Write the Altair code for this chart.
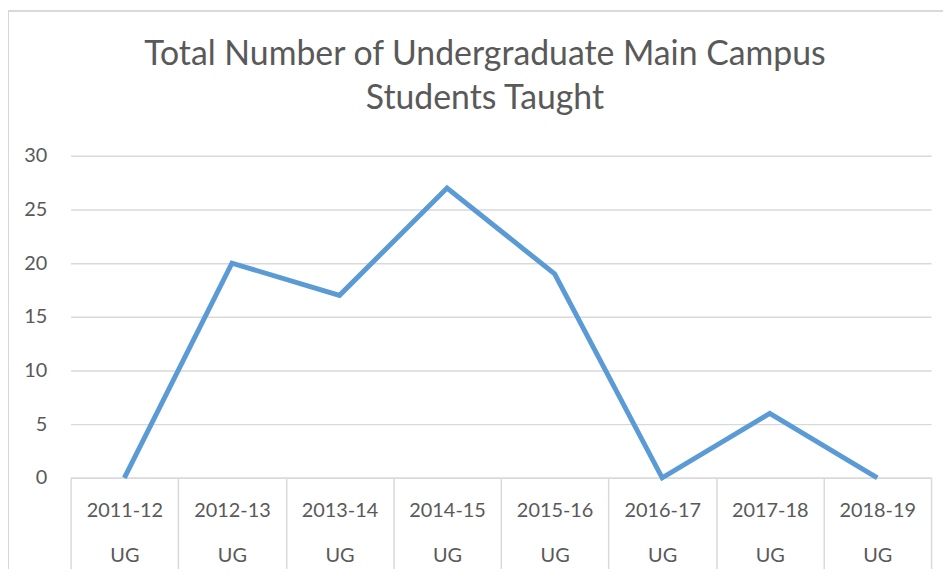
import altair as alt
import pandas as pd

years = ["2011-12", "2012-13", "2013-14", "2014-15", "2015-16", "2016-17", "2017-18", "2018-19"]
levels = ["UG", "UG", "UG", "UG", "UG", "UG", "UG", "UG"]
students = [0, 20, 17, 27, 19, 0, 6, 0]

df = pd.DataFrame({
    "cat": [f"{y}|{l}" for y, l in zip(years, levels)],
    "students": students,
})

FONT = "Lato"
GRAY = "#595959"
GRID = "#d9d9d9"

x = alt.X(
    "cat:N", sort=None, title=None,
    scale=alt.Scale(paddingInner=0, paddingOuter=0),
    axis=alt.Axis(
        labelExpr="split(datum.label, '|')",
        labelAngle=0, labelFont=FONT, labelFontSize=20, labelColor=GRAY,
        labelLineHeight=45, labelPadding=-73, labelBaseline="top",
        tickBand="extent", tickSize=96, tickColor=GRID, tickWidth=1.5,
        domainColor=GRID, domainWidth=1.5, grid=False,
    ),
)
y = alt.Y(
    "students:Q", title=None,
    scale=alt.Scale(domain=[0, 30]),
    axis=alt.Axis(
        values=[0, 5, 10, 15, 20, 25, 30], labelFont=FONT, labelFontSize=20,
        labelColor=GRAY, labelPadding=24, ticks=False, domain=False,
        gridColor=GRID, gridWidth=1.5,
    ),
)

border = alt.Chart(df).mark_rect(fill=None, stroke=GRID, strokeWidth=1.5).encode(
    x=alt.value(-63), x2=alt.value(920), y=alt.value(-146), y2=alt.value(440)
)

line = alt.Chart(df).mark_line(color="#5B9BD5", strokeWidth=5).encode(x=x, y=y)

chart = alt.layer(border, line).properties(
    width=866, height=324,
    padding={"left": 63, "top": 147, "right": 12, "bottom": 90},
    autosize=alt.AutoSizeParams(type="none"),
    title=alt.TitleParams(
        text=["Total Number of Undergraduate Main Campus", "Students Taught"],
        font=FONT, fontSize=34, fontWeight="normal", color=GRAY,
        anchor="middle", lineHeight=45, offset=-107, dx=-16,
    ),
).configure_view(stroke=None)

chart.save("out.html", embed_options={"renderer": "svg", "actions": False})
